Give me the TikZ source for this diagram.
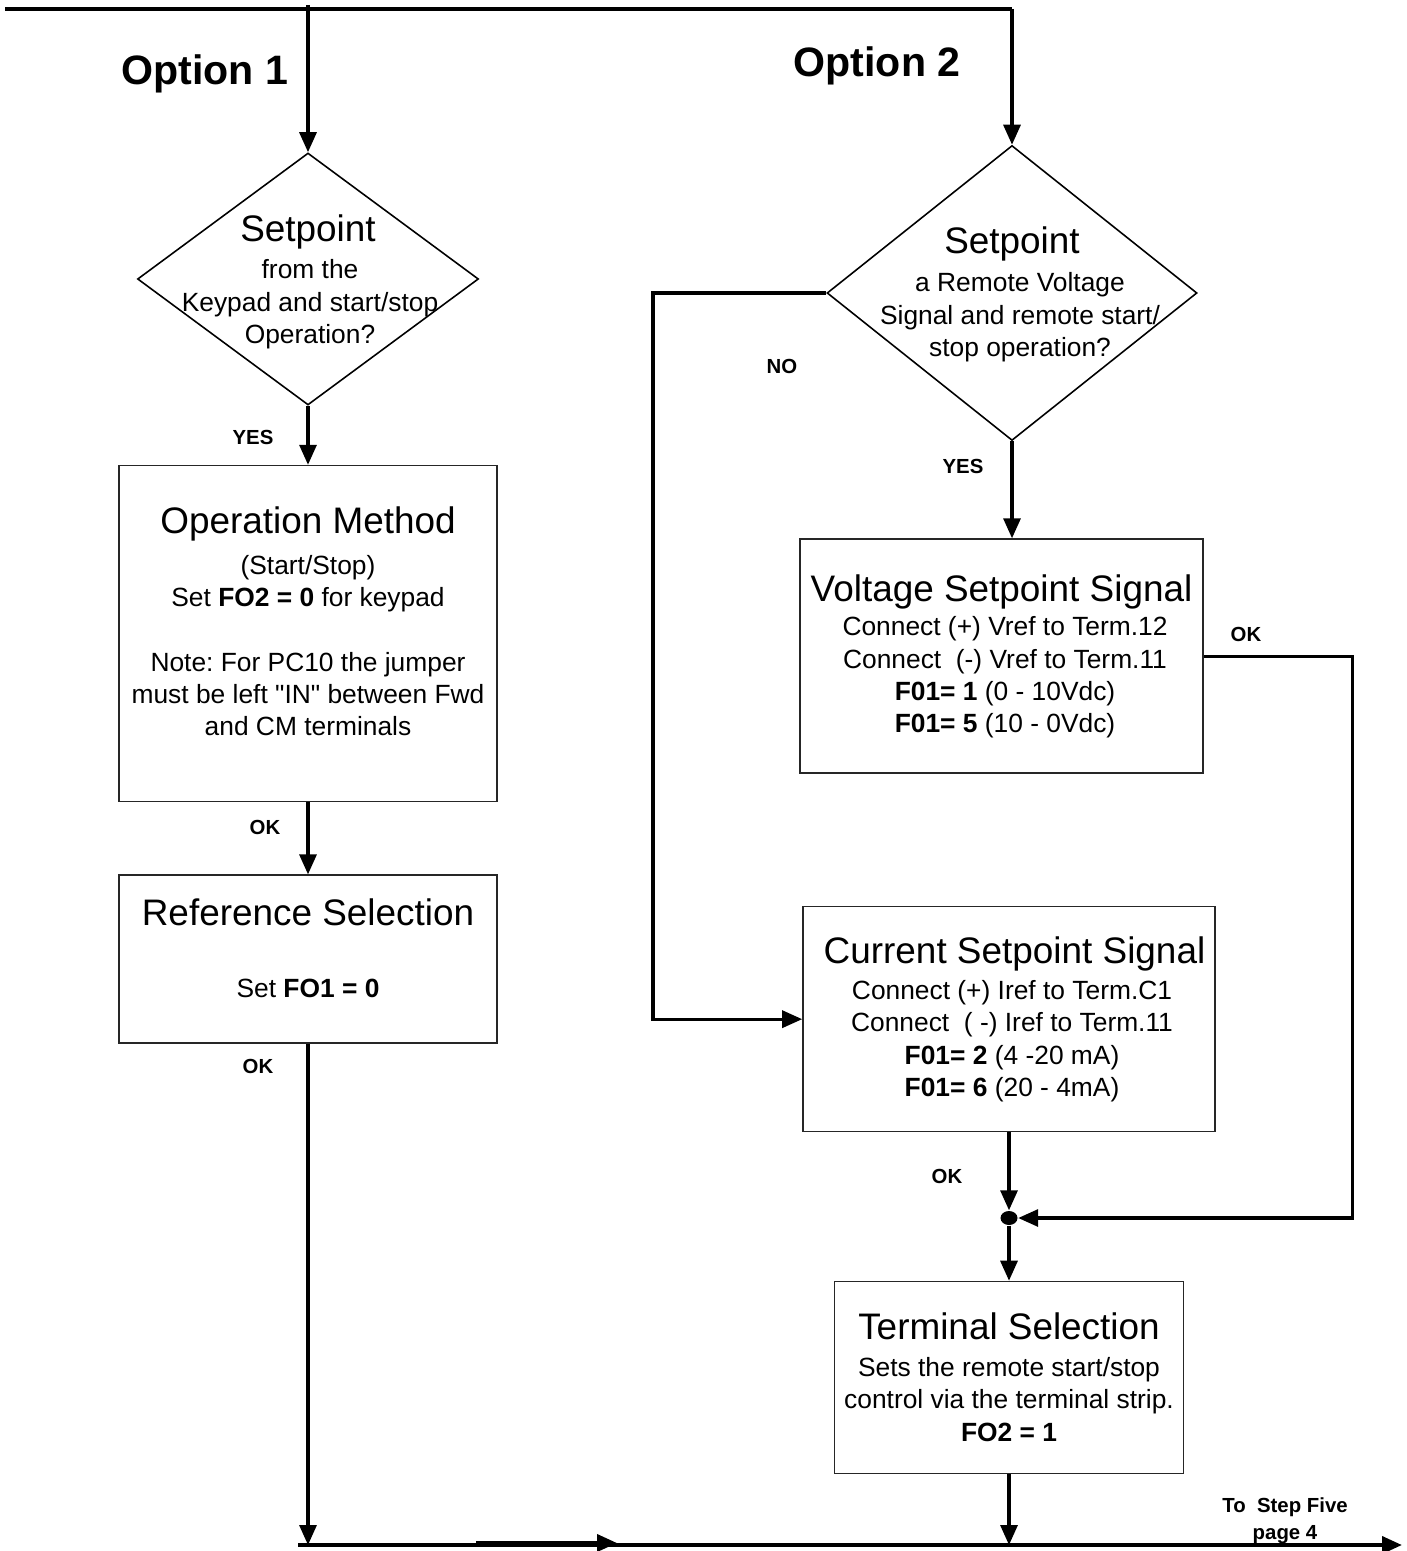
\documentclass[tikz,border=0pt]{standalone}
\usepackage{fontspec}
\setmainfont{Liberation Sans}
\frenchspacing
\usetikzlibrary{positioning,shapes.geometric,arrows.meta}
\tikzset{
decision/.style={draw,diamond,inner sep=0pt,line width=0.45pt},
stepbox/.style={draw=black!85,rectangle,inner sep=0pt,line width=0.45pt},
flow/.style={line width=0.9pt,-{Triangle[length=0.2cm,width=0.17cm]}},
wire/.style={line width=1.1pt},
hd/.style={font=\fontsize{10.5}{12.6}\selectfont},
bd/.style={font=\fontsize{7.5}{9.2}\selectfont,align=center},
lbl/.style={font=\bfseries\fontsize{5.8}{7.7}\selectfont,align=center},
opt/.style={font=\bfseries\fontsize{11.7}{14}\selectfont}
}
\begin{document}
\begin{tikzpicture}
\useasboundingbox (0,0) rectangle (14.06,-15.51);
\node[decision,minimum width=3.41cm,minimum height=2.52cm](dec1) at (3.08,-2.79) {};
\node[stepbox,below=0.59cm of dec1,minimum width=3.78cm,minimum height=3.36cm](opm) {};
\node[stepbox,below=0.72cm of opm,minimum width=3.78cm,minimum height=1.68cm](refsel) {};
\node[decision,minimum width=3.70cm,minimum height=2.95cm](dec2) at (10.12,-2.93) {};
\node[stepbox,below=0.97cm of dec2,xshift=-0.105cm,minimum width=4.03cm,minimum height=2.34cm](vsig) {};
\node[stepbox,below=1.32cm of vsig,xshift=0.075cm,minimum width=4.12cm,minimum height=2.25cm](isig) {};
\node[fill,ellipse,inner sep=0pt,minimum width=0.17cm,minimum height=0.14cm](jn) at (10.09,-12.18) {};
\node[stepbox,below=0.55cm of jn,minimum width=3.49cm,minimum height=1.92cm](tsel) {};
\node[opt](opt1) at (2.05,-0.74) {Option 1};
\node[opt](opt2) at (8.77,-0.66) {Option 2};
\node[hd](dec1h) at ([yshift=0.47cm]dec1.center) {Setpoint};
\node[bd](dec1b) at ([xshift=0.02cm,yshift=-0.255cm]dec1.center) {from the\\Keypad and start/stop\\Operation?};
\node[hd](dec2h) at ([yshift=0.49cm]dec2.center) {Setpoint};
\node[bd](dec2b) at ([xshift=0.08cm,yshift=-0.245cm]dec2.center) {a Remote Voltage\\Signal and remote start/\\stop operation?};
\node[hd](opmh) at ([yshift=1.1cm]opm.center) {Operation Method};
\node[bd](opmb) at ([yshift=-0.12cm]opm.center) {(Start/Stop)\\Set \textbf{FO2 = 0} for keypad\\[9.2pt]Note: For PC10 the jumper\\must be left \textquotedbl IN\textquotedbl{} between Fwd\\and CM terminals};
\node[hd](refselh) at ([yshift=0.47cm]refsel.center) {Reference Selection};
\node[bd](refselb) at ([yshift=-0.29cm]refsel.center) {Set \textbf{FO1 = 0}};
\node[hd](vsigh) at ([yshift=0.64cm]vsig.center) {Voltage Setpoint Signal};
\node[bd](vsigb) at ([xshift=0.035cm,yshift=-0.215cm]vsig.center) {Connect (+) Vref to Term.12\\Connect \ (-) Vref to Term.11\\\textbf{F01= 1} (0 - 10Vdc)\\\textbf{F01= 5} (10 - 0Vdc)};
\node[hd](isigh) at ([xshift=0.055cm,yshift=0.655cm]isig.center) {Current Setpoint Signal};
\node[bd](isigb) at ([xshift=0.03cm,yshift=-0.22cm]isig.center) {Connect (+) Iref to Term.C1\\Connect \ ( -) Iref to Term.11\\\textbf{F01= 2} (4 -20 mA)\\\textbf{F01= 6} (20 - 4mA)};
\node[hd](tselh) at ([yshift=0.51cm]tsel.center) {Terminal Selection};
\node[bd](tselb) at ([yshift=-0.22cm]tsel.center) {Sets the remote start/stop\\control via the terminal strip.\\\textbf{FO2 = 1}};
\node[lbl](yes1) at (2.53,-4.37) {YES};
\node[lbl](ok1) at (2.65,-8.27) {OK};
\node[lbl](ok2) at (2.58,-10.66) {OK};
\node[lbl](no2) at (7.82,-3.66) {NO};
\node[lbl](yes2) at (9.63,-4.66) {YES};
\node[lbl](ok3) at (12.46,-6.34) {OK};
\node[lbl](ok4) at (9.47,-11.76) {OK};
\node[lbl](nxt) at (12.85,-15.21) {To \ Step Five\\page 4};
\coordinate (tl) at (0.05,-0.09);
\coordinate (tr) at (10.12,-0.09);
\coordinate (s1) at (3.08,-0.05);
\coordinate (nocorner) at (6.53,-2.93);
\coordinate (bl) at (2.98,-15.45);
\coordinate (br) at (14.02,-15.45);
\coordinate (m1) at (4.76,-15.43);
\coordinate (m2) at (6.17,-15.43);
\draw[wire] (tl)--(tr);
\draw[flow] (s1)--(dec1.north);
\draw[flow] (tr)--(dec2.north);
\draw[flow] (dec1.south)--(opm.north);
\draw[flow] (opm.south)--(refsel.north);
\draw[flow] (refsel.south)--(refsel.south|-bl);
\draw[flow] (dec2.south)--(dec2.south|-vsig.north);
\draw[flow] (dec2.west)--(nocorner)|-(isig.west);
\draw[flow] (vsig.east)--++(1.49,0)|-(jn.east);
\draw[flow] (isig.south-|jn)--(jn.north);
\draw[flow] (jn.south)--(tsel.north);
\draw[flow] (tsel.south)--(tsel.south|-bl);
\draw[flow,wire] (bl)--(br);
\draw[flow,wire] (m1)--(m2);
\end{tikzpicture}
\end{document}
